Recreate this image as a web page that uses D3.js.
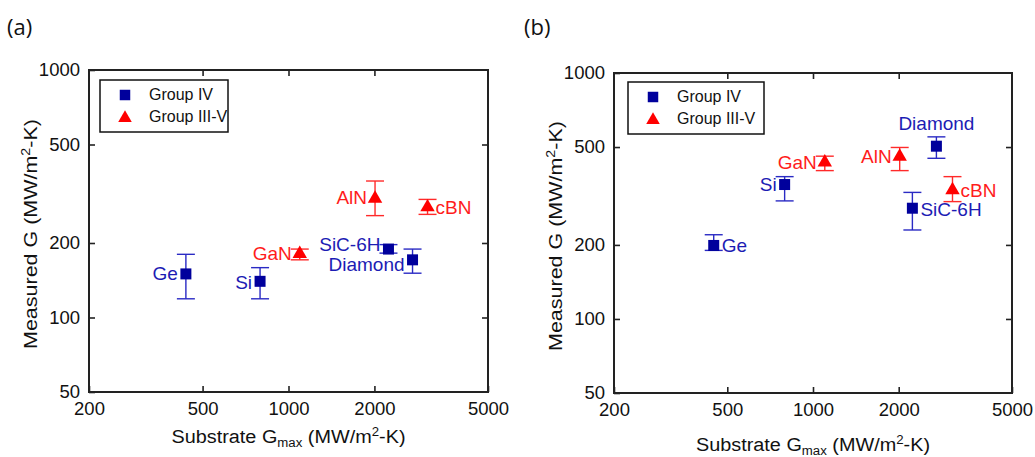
<!DOCTYPE html>
<html>
<head>
<meta charset="utf-8">
<script src="https://cdn.jsdelivr.net/npm/d3@7"></script>
<style>
  body { margin: 0; background: #fff; }
  text { font-family: "Liberation Sans", Arial, sans-serif; }
</style>
</head>
<body>
<script>
// data
var materials = ["Ge", "Si", "GaN", "SiC-6H", "Diamond", "AlN", "cBN"];
var groups = ["IV", "IV", "III-V", "IV", "IV", "III-V", "III-V"];

var gmaxA = [437, 795, 1095, 2240, 2720, 2010, 3070];
var measA = [150, 140, 181, 189, 171, 302, 279];
var loA = [119, 119, 171, 182, 151, 258, 261];
var hiA = [180, 159, 189, 197, 189, 356, 300];

var gmaxB = [448, 795, 1100, 2234, 2713, 2016, 3090];
var measB = [199, 352, 433, 282, 504, 457, 334];
var loB = [190, 302, 401, 230, 450, 401, 300];
var hiB = [220, 379, 459, 327, 550, 498, 379];

var xTicks = [200, 500, 1000, 2000, 5000];
var yTicks = [50, 100, 200, 500, 1000];
var legendNames = ["Group IV", "Group III-V"];

// label placement per panel (side, dy)
var labelPosA = [["l", 0], ["l", 1], ["l", 0], ["l", -5], ["l", 5], ["l", -1], ["r", 0]];
var labelPosB = [["r", 0], ["l", 0], ["l", 0], ["r", 1], ["t", 0], ["l", 0], ["r", 0]];

var W = 1035, H = 457;
var svg = d3.select("body").append("svg")
    .attr("width", W)
    .attr("height", H);

var blueFill = "#00009c", blueLine = "#2a2ac4", blueText = "#1c1cb4";
var redFill = "#ff0000", redLine = "#ff2a2a", redText = "#ff1c1c";

function panel(o) {
  var x = d3.scaleLog().domain([200, 5000]).range([o.left, o.right]);
  var y = d3.scaleLog().domain([50, 1000]).range([o.bottom, o.top]);
  var g = svg.append("g");

  var rows = materials.map(function (m, i) {
    return { name: m, group: groups[i], x: o.gx[i], y: o.gy[i], lo: o.lo[i], hi: o.hi[i], pos: o.pos[i] };
  });

  // axes with inward ticks on all four sides
  g.append("g")
    .attr("class", "xax")
    .attr("transform", "translate(0," + o.bottom + ")")
    .call(d3.axisBottom(x).tickValues(xTicks).tickFormat(d3.format("d")).tickSize(-6).tickPadding(10))
    .call(function (a) { a.select(".domain").remove(); });
  g.append("g")
    .attr("transform", "translate(" + o.left + ",0)")
    .call(d3.axisLeft(y).tickValues(yTicks).tickFormat(d3.format("d")).tickSize(-6).tickPadding(9))
    .call(function (a) { a.select(".domain").remove(); });
  g.append("g")
    .attr("transform", "translate(0," + o.top + ")")
    .call(d3.axisTop(x).tickValues(xTicks.slice(1, -1)).tickSize(-6).tickFormat(""))
    .call(function (a) { a.select(".domain").remove(); });
  g.append("g")
    .attr("transform", "translate(" + o.right + ",0)")
    .call(d3.axisRight(y).tickValues(yTicks.slice(1, -1)).tickSize(-6).tickFormat(""))
    .call(function (a) { a.select(".domain").remove(); });

  g.selectAll(".tick line").attr("stroke", "#222").attr("stroke-width", 1.6);
  g.selectAll(".tick text").attr("fill", "#111").style("font-size", "18.5px");
  g.selectAll(".xax .tick text").attr("dy", "0.71em");

  g.append("rect")
    .attr("x", o.left).attr("y", o.top)
    .attr("width", o.right - o.left).attr("height", o.bottom - o.top)
    .attr("fill", "none").attr("stroke", "#222").attr("stroke-width", 2);

  // panel tag
  svg.append("text").attr("x", o.tagX).attr("y", 35)
    .style("font-family", "'Open Sans', sans-serif").style("font-size", "22px")
    .attr("fill", "#111").text(o.tag);

  // axis titles
  var xt = g.append("text")
    .attr("x", (o.left + o.right) / 2).attr("y", o.xTitleY)
    .attr("text-anchor", "middle").attr("fill", "#111").style("font-size", "18px")
    .attr("textLength", 234).attr("lengthAdjust", "spacingAndGlyphs");
  xt.append("tspan").text("Substrate G");
  xt.append("tspan").attr("dy", 4).style("font-size", "12px").text("max");
  xt.append("tspan").attr("dy", -4).text(" (MW/m");
  xt.append("tspan").attr("dy", -7).style("font-size", "12px").text("2");
  xt.append("tspan").attr("dy", 7).text("-K)");

  var yt = g.append("text")
    .attr("transform", "translate(" + o.yTitleX + "," + ((o.top + o.bottom) / 2 + 3) + ") rotate(-90)")
    .attr("text-anchor", "middle").attr("fill", "#111").style("font-size", "18px")
    .attr("textLength", 230).attr("lengthAdjust", "spacingAndGlyphs");
  yt.append("tspan").text("Measured G (MW/m");
  yt.append("tspan").attr("dy", -7).style("font-size", "12px").text("2");
  yt.append("tspan").attr("dy", 7).text("-K)");

  // error bars
  var eb = g.selectAll(".err").data(rows).enter().append("g")
    .attr("stroke", function (d) { return d.group === "IV" ? blueLine : redLine; })
    .attr("stroke-width", 1.4);
  eb.append("line")
    .attr("x1", function (d) { return x(d.x); }).attr("x2", function (d) { return x(d.x); })
    .attr("y1", function (d) { return y(d.lo); }).attr("y2", function (d) { return y(d.hi); });
  eb.append("line")
    .attr("x1", function (d) { return x(d.x) - 9; }).attr("x2", function (d) { return x(d.x) + 9; })
    .attr("y1", function (d) { return y(d.lo); }).attr("y2", function (d) { return y(d.lo); });
  eb.append("line")
    .attr("x1", function (d) { return x(d.x) - 9; }).attr("x2", function (d) { return x(d.x) + 9; })
    .attr("y1", function (d) { return y(d.hi); }).attr("y2", function (d) { return y(d.hi); });

  // markers
  var sq = d3.symbol().type(d3.symbolSquare).size(121);
  var tri = d3.symbol().type(d3.symbolTriangle).size(90);
  g.selectAll(".pt").data(rows).enter().append("path")
    .attr("transform", function (d) { return "translate(" + x(d.x) + "," + y(d.y) + ")"; })
    .attr("d", function (d) { return d.group === "IV" ? sq() : tri(); })
    .attr("fill", function (d) { return d.group === "IV" ? blueFill : redFill; });

  // point labels
  g.selectAll(".lbl").data(rows).enter().append("text")
    .attr("x", function (d) {
      if (d.pos[0] === "l") return x(d.x) - 8;
      if (d.pos[0] === "r") return x(d.x) + 8;
      return x(d.x);
    })
    .attr("y", function (d) { return d.pos[0] === "t" ? y(d.y) - 16 : y(d.y) + 6.5 + d.pos[1]; })
    .attr("text-anchor", function (d) { return d.pos[0] === "l" ? "end" : d.pos[0] === "r" ? "start" : "middle"; })
    .attr("fill", function (d) { return d.group === "IV" ? blueText : redText; })
    .style("font-size", "19px")
    .text(function (d) { return d.name; });

  // legend
  var lg = g.append("g").attr("transform", "translate(" + o.legX + "," + o.legY + ")");
  lg.append("rect").attr("width", o.legW).attr("height", 52)
    .attr("fill", "#fff").attr("stroke", "#111").attr("stroke-width", 1.5);
  lg.append("path").attr("transform", "translate(25,15)").attr("d", d3.symbol().type(d3.symbolSquare).size(110)()).attr("fill", blueFill);
  lg.append("path").attr("transform", "translate(25,38)").attr("d", d3.symbol().type(d3.symbolTriangle).size(80)()).attr("fill", redFill);
  lg.selectAll(".lt").data(legendNames).enter().append("text")
    .attr("x", 49).attr("y", function (d, i) { return 20 + i * 22; })
    .attr("fill", "#111").style("font-size", "16px")
    .text(function (d) { return d; });
}

panel({ left: 89, right: 488, top: 70, bottom: 392, gx: gmaxA, gy: measA, lo: loA, hi: hiA, pos: labelPosA,
        tag: "(a)", tagX: 7, xTitleY: 443, yTitleX: 37, legX: 100, legY: 80, legW: 128 });
panel({ left: 614, right: 1012, top: 73, bottom: 393, gx: gmaxB, gy: measB, lo: loB, hi: hiB, pos: labelPosB,
        tag: "(b)", tagX: 524, xTitleY: 451, yTitleX: 562, legX: 628, legY: 82, legW: 136 });
</script>
</body>
</html>
